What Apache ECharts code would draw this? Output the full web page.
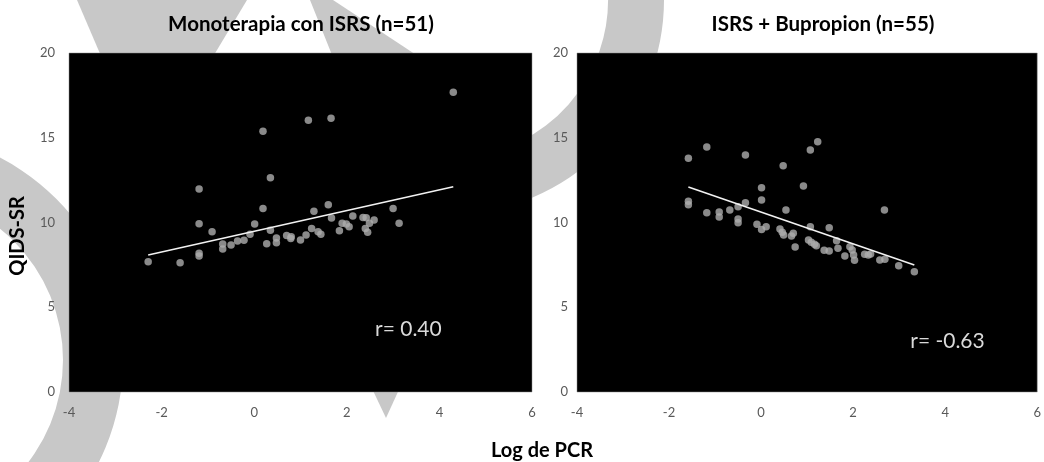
<!DOCTYPE html>
<html><head><meta charset="utf-8">
<script src="https://cdn.jsdelivr.net/npm/echarts@6/dist/echarts.min.js"></script>
<style>html,body{margin:0;padding:0;background:#fff}#c{width:1044px;height:462px}</style>
</head><body><div id="c"></div>
<script>
const panelTitles = ['Monoterapia con ISRS (n=51)', 'ISRS + Bupropion (n=55)'];
const yAxisName = 'QIDS-SR';
const xAxisName = 'Log de PCR';
const rLabels = ['r= 0.40', 'r= -0.63'];

// Monoterapia con ISRS: log PCR (x), QIDS-SR (y)
const monoX = [-2.29,-1.60,-1.19,-1.19,-1.19,-1.19,-0.91,-0.68,-0.68,-0.50,-0.36,-0.22,-0.09,0.01,0.19,0.19,0.27,0.35,0.35,0.48,0.48,0.70,0.80,0.79,1.00,1.12,1.17,1.24,1.29,1.38,1.44,1.60,1.66,1.67,1.84,1.90,1.99,2.05,2.13,2.35,2.42,2.49,2.40,2.45,2.59,3.00,3.13,4.30];
const monoY = [7.69,7.63,11.98,9.93,8.18,8.02,9.46,8.73,8.44,8.67,8.91,8.95,9.30,9.91,15.38,10.82,8.75,12.64,9.54,9.09,8.81,9.24,9.16,9.05,8.97,9.26,16.03,9.65,10.66,9.46,9.30,11.05,16.15,10.27,9.52,9.95,9.91,9.75,10.38,10.30,10.28,9.95,9.65,9.42,10.15,10.82,9.95,17.68];
const monoFitX = [-2.29, 4.30];
const monoFitY = [8.08, 12.11];

// ISRS + Bupropion
const bupX = [-1.58,-1.18,-1.58,-1.58,-1.18,-0.91,-0.91,-0.68,-0.50,-0.50,-0.50,-0.34,-0.34,-0.09,0.01,0.01,0.01,0.11,0.41,0.46,0.49,0.48,0.54,0.66,0.70,0.74,0.92,1.03,1.09,1.16,1.20,1.07,1.07,1.23,1.37,1.48,1.48,1.64,1.67,1.82,1.93,1.98,2.01,2.03,2.25,2.33,2.38,2.58,2.69,2.68,2.99,3.33];
const bupY = [13.79,14.45,11.25,11.05,10.58,10.62,10.32,10.74,10.93,10.21,9.99,13.98,11.17,9.89,12.05,11.33,9.58,9.75,9.62,9.42,9.26,13.35,10.74,9.20,9.36,8.55,12.15,8.97,8.83,8.71,8.63,14.28,9.75,14.77,8.36,8.32,9.69,8.93,8.48,8.02,8.57,8.38,8.08,7.77,8.12,8.08,8.14,7.79,7.83,10.74,7.45,7.10];
const bupFitX = [-1.58, 3.33];
const bupFitY = [12.09, 7.49];

const xMin = -4, xMax = 6, xStep = 2;
const yMin = 0, yMax = 20, yStep = 5;

const zip = (a, b) => a.map((v, i) => [v, b[i]]);
const FONT = 'Lato, "Open Sans", sans-serif';
const DECO = '#c8c8c8';

const grids = [
  {left: 69, top: 53, width: 463, height: 339},
  {left: 577, top: 53, width: 467, height: 339}
];

const chart = echarts.init(document.getElementById('c'));
const xAxes = grids.map((g, i) => ({
  type: 'value', gridIndex: i, min: xMin, max: xMax, interval: xStep,
  axisLine: {show: false}, axisTick: {show: false}, splitLine: {show: false},
  axisLabel: {color: '#595959', fontSize: 13, fontFamily: FONT, margin: 14, showMaxLabel: true, showMinLabel: true}
}));
const yAxes = grids.map((g, i) => ({
  type: 'value', gridIndex: i, min: yMin, max: yMax, interval: yStep,
  axisLine: {show: false}, axisTick: {show: false}, splitLine: {show: false},
  axisLabel: {color: '#595959', fontSize: 13, fontFamily: FONT, margin: i === 0 ? 14 : 9}
}));

const scatterStyle = {color: '#adadad'};
const series = [
  {type: 'scatter', xAxisIndex: 0, yAxisIndex: 0, data: zip(monoX, monoY), symbolSize: 7.5, itemStyle: scatterStyle, z: 3},
  {type: 'line', xAxisIndex: 0, yAxisIndex: 0, data: zip(monoFitX, monoFitY), symbol: 'none', lineStyle: {color: '#f2f2f2', width: 1.6}, z: 4},
  {type: 'scatter', xAxisIndex: 1, yAxisIndex: 1, data: zip(bupX, bupY), symbolSize: 7.5, itemStyle: scatterStyle, z: 3},
  {type: 'line', xAxisIndex: 1, yAxisIndex: 1, data: zip(bupFitX, bupFitY), symbol: 'none', lineStyle: {color: '#f2f2f2', width: 1.6}, z: 4}
];

const deco = [
  {type: 'ring', shape: {cx: -105, cy: 360, r: 228, r0: 168}, style: {fill: DECO}, z: -10, silent: true},
  {type: 'sector', shape: {cx: 450, cy: 0, r: 214, r0: 158, startAngle: -0.2, endAngle: 1.9, clockwise: true}, style: {fill: DECO}, z: -10, silent: true},
  {type: 'polygon', shape: {points: [[77,0],[247,0],[205,70],[107,70]]}, style: {fill: DECO}, z: -10, silent: true},
  {type: 'polygon', shape: {points: [[310,0],[333,0],[439,70],[338,70]]}, style: {fill: DECO}, z: -10, silent: true},
  {type: 'polygon', shape: {points: [[330,300],[440,300],[386,418]]}, style: {fill: DECO}, z: -10, silent: true}
];

const option = {
  backgroundColor: '#ffffff',
  animation: false,
  title: [
    {text: panelTitles[0], left: 296, top: 9, textAlign: 'center', textStyle: {fontFamily: FONT, fontWeight: 'bold', fontSize: 20.5, color: '#000'}},
    {text: panelTitles[1], left: 818, top: 9, textAlign: 'center', textStyle: {fontFamily: FONT, fontWeight: 'bold', fontSize: 20.5, color: '#000'}}
  ],
  grid: grids.map(g => Object.assign({show: true, backgroundColor: '#000', borderColor: '#888', borderWidth: 0.5, z: 2}, g)),
  xAxis: xAxes,
  yAxis: yAxes,
  series: series
};
chart.setOption(option);

// text annotations; r labels placed at data coordinates
const p0 = chart.convertToPixel({xAxisIndex: 0, yAxisIndex: 0}, [3.33, 3.7]);
const p1 = chart.convertToPixel({xAxisIndex: 1, yAxisIndex: 1}, [4.05, 3.0]);
chart.setOption({graphic: deco.concat([
  {type: 'text', x: 18, y: 236, rotation: Math.PI / 2, style: {text: yAxisName, font: 'bold 20px ' + FONT, fill: '#000', align: 'center', verticalAlign: 'middle'}, z: 100},
  {type: 'text', x: 542, y: 451, style: {text: xAxisName, font: 'bold 20px ' + FONT, fill: '#000', align: 'center', verticalAlign: 'middle'}, z: 100},
  {type: 'text', x: p0[0], y: p0[1], style: {text: rLabels[0], font: '21px ' + FONT, fill: '#d9d9d9', align: 'center', verticalAlign: 'middle'}, z: 100},
  {type: 'text', x: p1[0], y: p1[1], style: {text: rLabels[1], font: '21px ' + FONT, fill: '#d9d9d9', align: 'center', verticalAlign: 'middle'}, z: 100}
])});
</script></body></html>
